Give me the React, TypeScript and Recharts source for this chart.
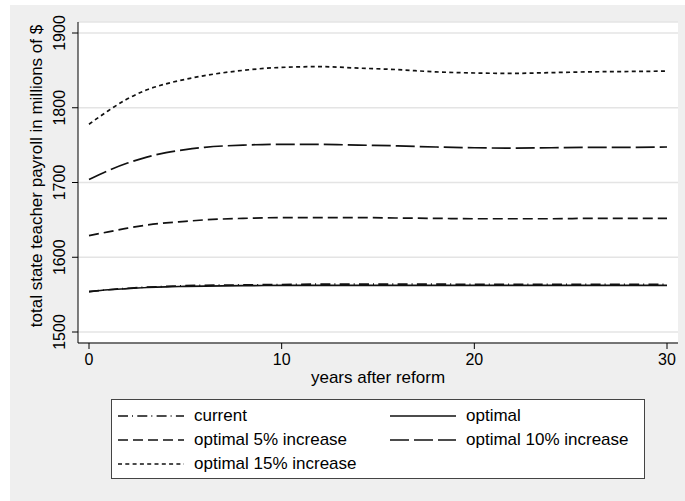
import React from 'react';
import { LineChart, Line, XAxis, YAxis, CartesianGrid, Legend } from 'recharts';

const years = [0, 1, 2, 3, 4, 5, 6, 8, 10, 12, 14, 16, 18, 20, 22, 24, 26, 28, 30];
const current = [1554, 1556.5, 1558.5, 1560, 1561, 1562, 1562.5, 1563, 1563.5, 1564, 1564, 1564, 1564, 1563.8, 1563.8, 1563.8, 1563.8, 1563.8, 1563.8];
const optimal = [1554, 1556.5, 1558, 1559.5, 1560.5, 1561, 1561.5, 1562, 1562.3, 1562.5, 1562.5, 1562.5, 1562.5, 1562.3, 1562.3, 1562.3, 1562.3, 1562.3, 1562.3];
const opt5 = [1629, 1634, 1639, 1643, 1646, 1648, 1650, 1652, 1653, 1653, 1653, 1652.5, 1652, 1651.5, 1651.5, 1651.5, 1652, 1652, 1652];
const opt10 = [1704, 1716, 1726, 1734, 1740, 1744, 1747, 1750, 1751, 1751, 1750, 1749, 1747.5, 1746.5, 1746, 1746.5, 1747, 1747, 1747.5];
const opt15 = [1778, 1796, 1812, 1824, 1832, 1838, 1843, 1850, 1854, 1855, 1853, 1851, 1848, 1846.5, 1846, 1847, 1848, 1848.5, 1849];

const yTicks = [1500, 1600, 1700, 1800, 1900];
const xTicks = [0, 10, 20, 30];

const data = years.map((year, i) => ({
  year,
  current: current[i],
  optimal: optimal[i],
  opt5: opt5[i],
  opt10: opt10[i],
  opt15: opt15[i],
}));

const FONT = '"Liberation Sans", Arial, Helvetica, sans-serif';

// line styles, in legend order (two columns)
const series = [
  { key: 'current', name: 'current', dash: '10 4 1 4.3' },
  { key: 'optimal', name: 'optimal', dash: undefined },
  { key: 'opt5', name: 'optimal 5% increase', dash: '10 5' },
  { key: 'opt10', name: 'optimal 10% increase', dash: '19 5' },
  { key: 'opt15', name: 'optimal 15% increase', dash: '4 3.3' },
];

const YTick = (props: any) => {
  const { x, y, payload } = props;
  const bx = x - 5;
  return (
    <text
      x={bx}
      y={y}
      transform={`rotate(-90 ${bx} ${y})`}
      textAnchor="middle"
      fontSize={16}
      fontFamily={FONT}
      fill="#000"
    >
      {payload.value}
    </text>
  );
};

const renderLegend = () => (
  <div
    style={{
      position: 'relative',
      width: 534,
      height: 80,
      boxSizing: 'border-box',
      border: '1px solid #444',
      background: '#fff',
      fontFamily: FONT,
      fontSize: 17,
      color: '#000',
    }}
  >
    {series.map((s, i) => {
      const col = i % 2;
      const row = Math.floor(i / 2);
      const left = col === 0 ? 6 : 278;
      const top = 16 + row * 24;
      return (
        <div key={s.key} style={{ position: 'absolute', left, top: top - 10, height: 20, display: 'flex', alignItems: 'center' }}>
          <svg width={66} height={20} style={{ display: 'block' }}>
            <line x1={0} y1={10} x2={66} y2={10} stroke="#111" strokeWidth={1.7} strokeDasharray={s.dash} />
          </svg>
          <span style={{ marginLeft: 10, whiteSpace: 'nowrap', lineHeight: '20px' }}>{s.name}</span>
        </div>
      );
    })}
  </div>
);

export default function App() {
  return (
    <div style={{ position: 'fixed', left: 0, top: 0, width: 685, height: 501, background: '#fff' }}>
      <div style={{ position: 'absolute', left: 10, top: 5, right: 0, bottom: 0, background: '#efefef' }} />
      <div style={{ position: 'absolute', left: 0, top: 0 }}>
        <LineChart width={685} height={501} data={data} margin={{ top: 22, right: 7, bottom: 0, left: 0 }}>
          <CartesianGrid vertical={false} fill="#fff" stroke="#e4e4e4" strokeWidth={1.5} />
          <XAxis
            dataKey="year"
            type="number"
            domain={[0, 30]}
            ticks={xTicks}
            padding={{ left: 11, right: 11 }}
            height={158}
            tickSize={6}
            tickMargin={5}
            stroke="#000"
            tick={{ fontSize: 16, fill: '#000', fontFamily: FONT }}
            label={{
              content: (p: any) => {
                const vb = p.viewBox || {};
                return (
                  <text x={vb.x + vb.width / 2} y={383} textAnchor="middle" fontSize={17} fontFamily={FONT} fill="#000">
                    years after reform
                  </text>
                );
              },
            }}
          />
          <YAxis
            type="number"
            domain={[1500, 1900]}
            ticks={yTicks}
            padding={{ top: 11, bottom: 11 }}
            width={78}
            tickSize={6}
            stroke="#000"
            tick={<YTick />}
            label={{
              content: () => (
                <text
                  x={42}
                  y={176}
                  transform="rotate(-90 42 176)"
                  textAnchor="middle"
                  fontSize={17}
                  fontFamily={FONT}
                  fill="#000"
                >
                  total state teacher payroll in millions of $
                </text>
              ),
            }}
          />
          {series.map((s) => (
            <Line
              key={s.key}
              dataKey={s.key}
              name={s.name}
              type="monotone"
              stroke="#111"
              strokeWidth={1.7}
              strokeDasharray={s.dash}
              dot={false}
              isAnimationActive={false}
            />
          ))}
          <Legend
            layout="vertical"
            align="center"
            verticalAlign="middle"
            wrapperStyle={{ left: 111, top: 399, width: 534, height: 80 }}
            content={renderLegend}
          />
        </LineChart>
      </div>
    </div>
  );
}
